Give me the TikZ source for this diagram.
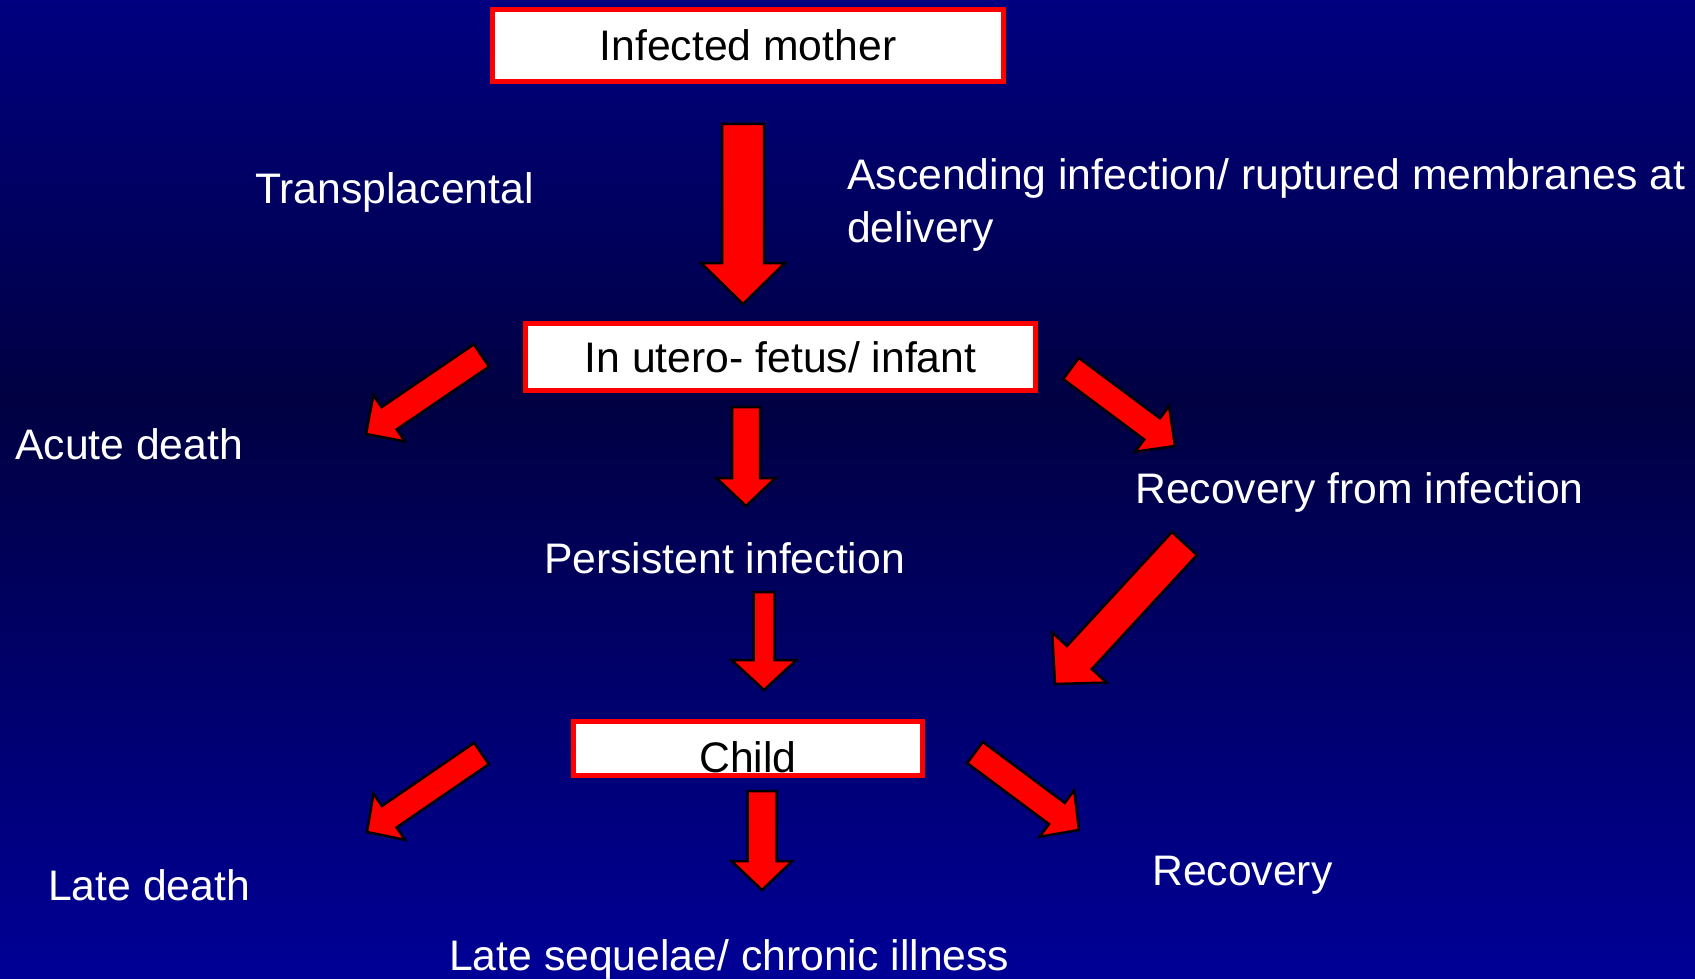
\documentclass[tikz,border=0pt]{standalone}
\usepackage{fontspec}
\setmainfont{Liberation Sans}
\usetikzlibrary{calc}
\definecolor{bgtop}{RGB}{0,0,128}
\definecolor{bgmid}{RGB}{0,0,66}
\definecolor{bgbot}{RGB}{0,0,150}
\tikzset{
  boxnode/.style={draw=red, line width=5pt, fill=white, text=black, inner sep=0pt, text height=30pt, text depth=0pt},
  lbl/.style={text=white, inner sep=0pt, anchor=base west},
  blockarrow/.style={draw=black, fill=red, line width=2.5pt, line join=miter},
}
% tail, tip, half shaft width, half head width, head length
\newcommand\blockarrow[5]{%
  \coordinate (hb) at ($(#2)!#5pt!(#1)$);
  \draw[blockarrow] ($(#1)!#3pt!90:(#2)$) -- ($(hb)!#3pt!90:(#2)$) -- ($(hb)!#4pt!90:(#2)$) -- (#2)
    -- ($(hb)!#4pt!-90:(#2)$) -- ($(hb)!#3pt!-90:(#2)$) -- ($(#1)!#3pt!-90:(#2)$) -- cycle;
}
\begin{document}
\begin{tikzpicture}[x=1pt, y=-1pt, font=\fontsize{42.7}{53}\selectfont]
\useasboundingbox (0,0) rectangle (1695,979);
\fill[top color=bgtop, bottom color=bgmid] (0,0) rectangle (1695,401);
\fill[top color=bgmid, bottom color=bgbot] (0,400) rectangle (1695,979);

% boxes
\node[boxnode, minimum width=511pt, minimum height=72pt] (mother) at (748,45.5) {Infected mother};
\node[boxnode, minimum width=510pt, minimum height=67pt] (utero) at (780.5,357) {In utero- fetus/ infant};
\node[boxnode, minimum width=349pt, minimum height=54pt, text height=47pt] (child) at (748,748.5) {Child};

% labels
\node[lbl] (transpl) at (255,203) {Transplacental};
\node[lbl, align=left] (ascend) at (847,242) {Ascending infection/ ruptured membranes at\\delivery};
\node[lbl] (acute) at (15,459) {Acute death};
\node[lbl] (recinf) at (1135,503) {Recovery from infection};
\node[lbl] (persist) at (544,573) {Persistent infection};
\node[lbl] (latedeath) at (48,900) {Late death};
\node[lbl] (recovery) at (1152,885) {Recovery};
\node[lbl] (sequelae) at (449,970) {Late sequelae/ chronic illness};

% arrow end points
\coordinate (a1t) at (743,124);    \coordinate (a1h) at (743,304);
\coordinate (a2t) at (481.5,355.5);\coordinate (a2h) at (366,434);
\coordinate (a3t) at (1071,368.5); \coordinate (a3h) at (1175,446);
\coordinate (a4t) at (746,407);    \coordinate (a4h) at (746,506);
\coordinate (a5t) at (764,592);    \coordinate (a5h) at (764,690);
\coordinate (a6t) at (1184.5,543.5);\coordinate (a6h) at (1055,684);
\coordinate (a7t) at (481.5,753.5);\coordinate (a7h) at (367,832);
\coordinate (a8t) at (975,752.5);  \coordinate (a8h) at (1079,830);
\coordinate (a9t) at (762,791);    \coordinate (a9h) at (762,890);

\blockarrow{a1t}{a1h}{21}{42}{41}
\blockarrow{a2t}{a2h}{13.5}{28}{28}
\blockarrow{a3t}{a3h}{13.2}{28.5}{28.6}
\blockarrow{a4t}{a4h}{14}{29.5}{28}
\blockarrow{a5t}{a5h}{10.5}{32.5}{30}
\blockarrow{a6t}{a6h}{17}{37}{36}
\blockarrow{a7t}{a7h}{13}{28}{27}
\blockarrow{a8t}{a8h}{13.2}{29}{27.6}
\blockarrow{a9t}{a9h}{14.5}{30.5}{29}
\end{tikzpicture}
\end{document}
